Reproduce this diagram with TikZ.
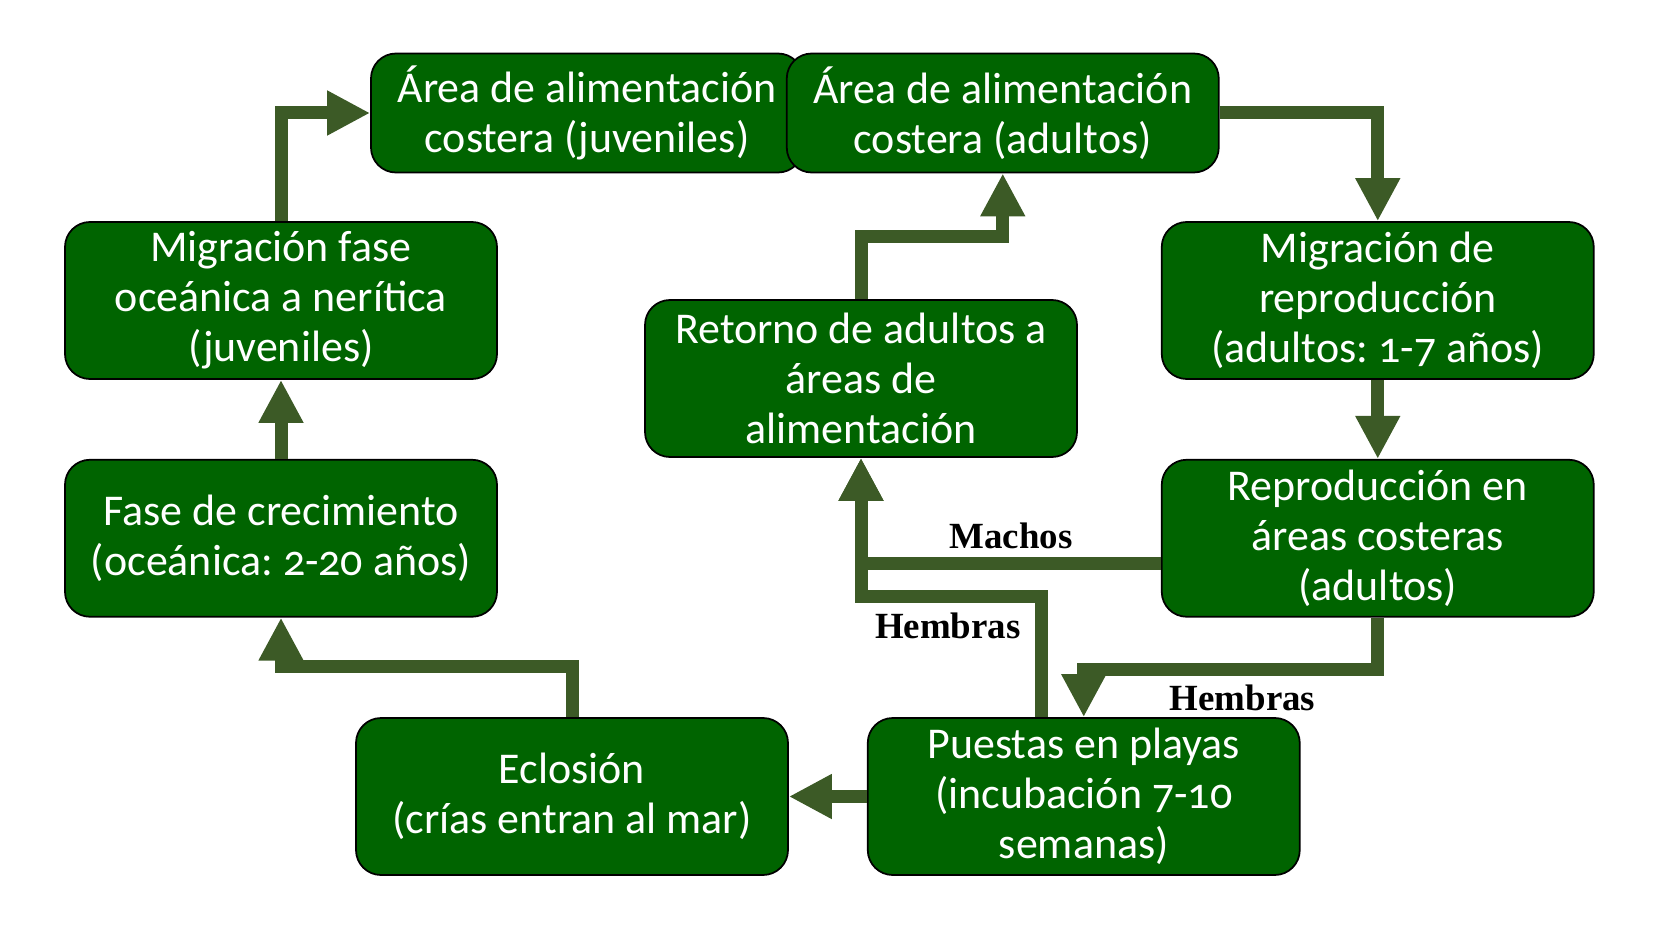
\documentclass[tikz,border=0pt]{standalone}
\usepackage{fontspec}
\setmainfont{Carlito}[Numbers=OldStyle]
\newfontfamily\lblfont{Liberation Serif}
\usepackage{xcolor}
\usepackage{tikz}
\usetikzlibrary{positioning, arrows.meta, calc}
\definecolor{boxgreen}{RGB}{0,100,0}
\definecolor{arrowgreen}{RGB}{60,90,38}
\frenchspacing

\begin{document}
\begin{tikzpicture}[
  box/.style={draw=black, line width=1pt, fill=boxgreen, rounded corners=0.5cm,
              minimum width=8.64cm, minimum height=3.14cm, align=center,
              text=white, font=\fontsize{25}{28.5}\selectfont},
  topbox/.style={box, minimum height=2.38cm},
  flow/.style={->, draw=arrowgreen, line width=0.26cm},
  lbl/.style={inner sep=0pt, font=\lblfont\bfseries\fontsize{21}{24}\selectfont},
  >={Triangle[width=0.84cm, length=0.86cm]}
]
  \useasboundingbox (0,0) rectangle (33.08,-18.88);

  % Nodes
  \node[box] (migf) at (5.62,-6.01)
    {Migración fase\\oceánica a nerítica\\(juveniles)};
  \node[box, below=1.58cm of migf] (fase)
    {Fase de crecimiento\\(oceánica: 2-20 años)};
  \node[box, right=13.26cm of migf] (migr)
    {Migración de\\reproducción\\(adultos: 1-7 años)};
  \node[box, below=1.58cm of migr] (repr)
    {Reproducción en\\áreas costeras\\(adultos)};
  \node[topbox] (juv) at (11.74,-2.26)
    {Área de alimentación\\costera (juveniles)};
  \node[topbox, right=-0.36cm of juv] (adu)
    {Área de alimentación\\costera (adultos)};
  \node[box] (ret) at (17.22,-7.57)
    {Retorno de adultos a\\áreas de\\alimentación};
  \node[box] (ecl) at (11.44,-15.93)
    {Eclosión\\(crías entran al mar)};
  \node[box, right=1.56cm of ecl] (pue)
    {Puestas en playas\\(incubación 7-10\\semanas)};

  % Edges
  \draw[flow] (fase.north) -- (migf.south);
  \draw[flow] (migf.north) |- (juv.west);
  \draw[flow] (adu.east) -| (migr.north);
  \draw[flow] (migr.south) -- (repr.north);
  \draw[flow] (repr.south) -- ++(0,-1.04) coordinate (rturn)
    -- node[lbl, below=0.18cm, pos=0.46] {Hembras} (rturn -| pue.north)
    -- (pue.north);
  \coordinate (mstart) at ([yshift=-0.5cm]repr.west);
  \draw[flow] (mstart) -- node[lbl, above=0.16cm] {Machos} (mstart -| ret.south)
    -- (ret.south);
  \coordinate (hstart) at ([xshift=-0.84cm]pue.north);
  \draw[flow] (hstart) -- ++(0,2.42) coordinate (hturn)
    -- node[lbl, below=0.2cm, pos=0.52] {Hembras} (hturn -| ret.south)
    -- (ret.south);
  \draw[flow] (ret.north) -- ++(0,1.26) -| (adu.south);
  \draw[flow] (ecl.north) -- ++(0,1.02) -| (fase.south);
  \draw[flow] (pue.west) -- (ecl.east);
\end{tikzpicture}
\end{document}
